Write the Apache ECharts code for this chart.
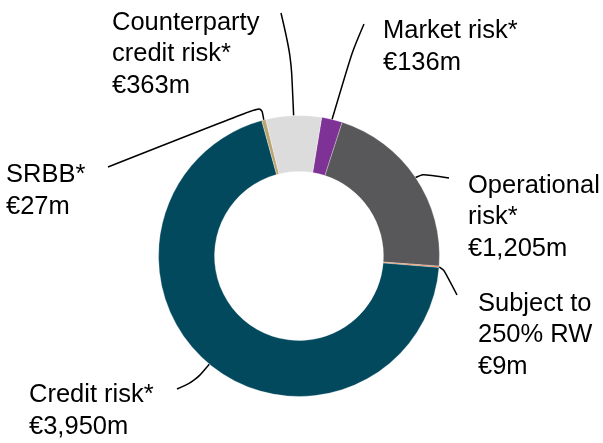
<!DOCTYPE html>
<html>
<head>
<meta charset="utf-8">
<script src="https://cdn.jsdelivr.net/npm/echarts@6/dist/echarts.min.js"></script>
<style>
  html, body { margin: 0; padding: 0; background: #fff; }
  #chart { width: 603px; height: 443px; }
</style>
</head>
<body>
<div id="chart"></div>
<script>
// data (clockwise, starting just right of 12 o'clock)
const categories = [
  'Market risk*',
  'Operational\nrisk*',
  'Subject to\n250% RW',
  'Credit risk*',
  'SRBB*',
  'Counterparty\ncredit risk*'
];
const values = [136, 1205, 9, 3950, 27, 363];
const colors = ['#7e3296', '#58585a', '#e8743b', '#02495e', '#b9a571', '#dcdcdc'];

// where each label sits and how its leader line bends (layout only)
const labelPos = [
  { x: 383, y: 47,  mid: [352, 52],   end: [364, 24] },
  { x: 468, y: 217, mid: [423, 174],  end: [449, 178] },
  { x: 478, y: 335, mid: [444, 270],  end: [457, 295] },
  { x: 29,  y: 411, mid: [195, 381],  end: [177, 389] },
  { x: 6,   y: 191, mid: [261.5, 106.5], end: [108, 167] },
  { x: 112, y: 54,  mid: [291, 55],   end: [281, 13] }
];

const myChart = echarts.init(document.getElementById('chart'));

const option = {
  animation: false,
  series: [
    {
      type: 'pie',
      center: [299, 256],
      radius: [84.5, 140.5],
      startAngle: 80.7,
      clockwise: true,
      avoidLabelOverlap: false,
      emphasis: { disabled: true },
      itemStyle: {
        borderColor: '#fff',
        borderWidth: 0.3
      },
      label: {
        show: true,
        position: 'outside',
        color: '#000',
        fontFamily: '"Liberation Sans", Arial, sans-serif',
        fontSize: 25.5,
        lineHeight: 31.5,
        formatter: (p) => p.name + '\n€' + p.value.toLocaleString('en-US') + 'm'
      },
      labelLine: {
        show: true,
        length: 5,
        length2: 5,
        smooth: 0.3,
        lineStyle: { color: '#000', width: 1.5 }
      },
      labelLayout: (params) => {
        const pos = labelPos[params.dataIndex];
        const start = params.labelLinePoints ? params.labelLinePoints[0] : pos.mid;
        return {
          x: pos.x,
          y: pos.y,
          align: 'left',
          verticalAlign: 'middle',
          labelLinePoints: [start, pos.mid, pos.end]
        };
      },
      data: categories.map((name, i) => ({
        name: name,
        value: values[i],
        itemStyle: { color: colors[i] }
      }))
    }
  ]
};

option && myChart.setOption(option);
window.addEventListener('resize', myChart.resize);
</script>
</body>
</html>
